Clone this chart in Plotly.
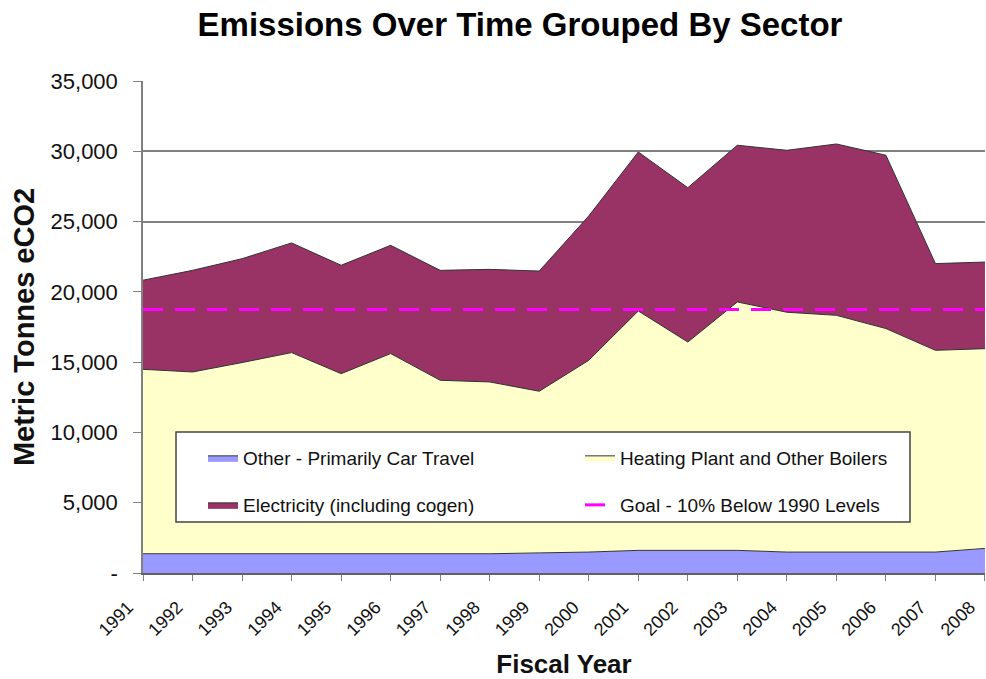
import plotly.graph_objects as go

# ---- data ----
years = [1991, 1992, 1993, 1994, 1995, 1996, 1997, 1998, 1999,
         2000, 2001, 2002, 2003, 2004, 2005, 2006, 2007, 2008]
year_labels = [str(y) for y in years]

other_car_travel = [1370, 1370, 1370, 1370, 1370, 1370, 1370, 1370, 1430,
                    1490, 1610, 1610, 1610, 1490, 1490, 1490, 1490, 1750]
heating_plant = [13120, 12930, 13600, 14310, 12810, 14240, 12340, 12220, 11500,
                 13640, 17030, 14820, 17670, 17060, 16840, 15900, 14350, 14210]
electricity = [6340, 7230, 7390, 7800, 7710, 7700, 7820, 8010, 8550,
               10270, 11310, 10980, 11150, 11520, 12190, 12330, 6170, 6160]
goal_level = 18747  # 10% below 1990 levels

y_tick_values = [0, 5000, 10000, 15000, 20000, 25000, 30000, 35000]
y_tick_labels = ["-", "5,000", "10,000", "15,000", "20,000", "25,000", "30,000", "35,000"]

FONT = "Liberation Sans, Arial, sans-serif"

fig = go.Figure()

fig.add_trace(go.Scatter(
    x=years, y=other_car_travel, name="Other - Primarily Car Travel",
    stackgroup="s", mode="lines", line=dict(color="#333333", width=1),
    fillcolor="#9999FF", legend="legend"))
fig.add_trace(go.Scatter(
    x=years, y=heating_plant, name="Heating Plant and Other Boilers",
    stackgroup="s", mode="lines", line=dict(color="#333333", width=1),
    fillcolor="#FFFFCC", legend="legend"))
fig.add_trace(go.Scatter(
    x=years, y=electricity, name="Electricity (including cogen)",
    stackgroup="s", mode="lines", line=dict(color="#333333", width=1),
    fillcolor="#993366", legend="legend2"))
fig.add_trace(go.Scatter(
    x=[years[0], years[-1]], y=[goal_level, goal_level],
    name="Goal - 10% Below 1990 Levels", mode="lines",
    line=dict(color="#FF00FF", width=3, dash="20px,12px"), legend="legend2"))

# plot area in pixels: x 143..985, y 81..573
L, R, T, B = 143, 1, 81, 106
pw = 986 - L - R
ph = 679 - T - B

def px_x(x):
    return (x - L) / pw

def px_y(y):
    return (679 - B - y) / ph

legend_common = dict(
    orientation="h", xanchor="left", yanchor="middle",
    bgcolor="rgba(0,0,0,0)", borderwidth=0,
    font=dict(family=FONT, size=19, color="#111111"),
    entrywidth=332, entrywidthmode="pixels", traceorder="normal")

fig.update_layout(
    width=986, height=679,
    margin=dict(l=L, r=R, t=T, b=B, autoexpand=False),
    paper_bgcolor="white", plot_bgcolor="white",
    font=dict(family=FONT, color="#111111"),
    title=dict(text="<b>Emissions Over Time Grouped By Sector</b>",
               x=520 / 986, xanchor="center", y=1 - 24 / 679, yanchor="middle",
               font=dict(family=FONT, size=33, color="#000000")),
    xaxis=dict(
        range=[years[0] - 0.0005, years[-1] + 0.0005], tickmode="array", tickvals=years,
        ticktext=year_labels, tickangle=-45, automargin=False,
        tickfont=dict(family=FONT, size=18, color="#111111"),
        ticks="outside", ticklen=6, tickcolor="#808080", tickwidth=1,
        showline=True, linecolor="#606060", linewidth=1.5,
        showgrid=False, zeroline=False, ticklabelshift=-15, ticklabelstandoff=9,
        ticklabeloverflow="allow",
        title=dict(text="<b>Fiscal Year</b>", standoff=22,
                   font=dict(family=FONT, size=26, color="#111111"))),
    yaxis=dict(
        range=[0, 35000], tickmode="array", tickvals=y_tick_values,
        ticktext=y_tick_labels, automargin=False,
        tickfont=dict(family=FONT, size=22, color="#111111"),
        ticks="outside", ticklen=8, tickcolor="#808080", tickwidth=1,
        showline=True, linecolor="#808080", linewidth=1.5,
        showgrid=True, gridcolor="#808080", gridwidth=1.5,
        zeroline=False, ticklabelstandoff=11,
        title=dict(text="<b>Metric Tonnes eCO2</b>", standoff=7,
                   font=dict(family=FONT, size=29, color="#111111"))),
    legend=dict(x=px_x(203), y=px_y(458), **legend_common),
    legend2=dict(x=px_x(203), y=px_y(505), **legend_common),
    shapes=[dict(type="rect", xref="paper", yref="paper",
                 x0=px_x(176), x1=px_x(910), y0=px_y(522), y1=px_y(432),
                 fillcolor="white", line=dict(color="#444444", width=1.5),
                 layer="above")],
)

fig.write_html("out.html", config={"displayModeBar": False},
               post_script="document.body.style.margin='0';document.body.style.overflow='hidden';")
